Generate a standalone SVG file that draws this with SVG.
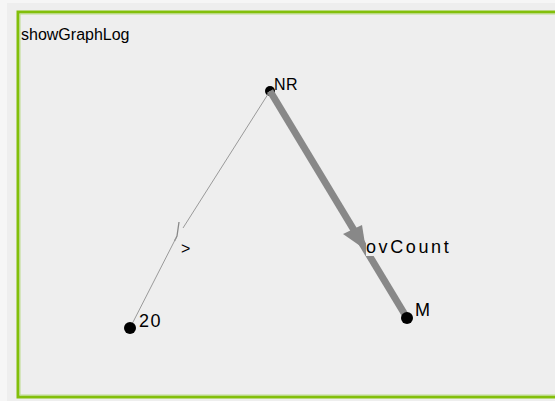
<svg xmlns="http://www.w3.org/2000/svg" width="555" height="401" viewBox="0 0 555 401">
<style>
.lbl{font-family:"Liberation Sans",Arial,sans-serif;font-size:18px;fill:#000;letter-spacing:2.6px}
.sm{font-family:"Liberation Sans",Arial,sans-serif;font-size:16px;fill:#000}
.dot{fill:#000}
</style>
<rect x="0" y="0" width="555" height="401" fill="#f6f6f6"/>
<rect x="7" y="3" width="548" height="398" fill="#eeeeee"/>
<g id="frame">
<rect x="18" y="12" width="560" height="385" fill="none" stroke="#82bf0a" stroke-width="3"/>
<rect x="20" y="14" width="560" height="381" fill="none" stroke="#bcdc8c" stroke-width="1"/>
<text class="sm" x="21" y="40">showGraphLog</text>
</g>
<g id="node-NR">
<circle class="dot" cx="270" cy="91" r="5"/>
<text class="sm" x="274" y="90" style="letter-spacing:0.5px">NR</text>
</g>
<g id="connectors">
<g id="edge-NR-20">
<line x1="270" y1="91" x2="183" y2="228" stroke="#999" stroke-width="1"/>
<path d="M179,222 L177,236 L174.5,241" fill="none" stroke="#888" stroke-width="1.3"/>
<line x1="176" y1="238" x2="130" y2="328" stroke="#999" stroke-width="1"/>
<text class="sm" x="181" y="254" style="font-size:16px">&gt;</text>
</g>
<g id="edge-NR-M">
<line x1="270" y1="91" x2="407" y2="318" stroke="#888" stroke-width="7"/>
<polygon points="366,250 343,234 362,225" fill="#888"/>
<rect x="366" y="234" width="92" height="22" fill="#eeeeee"/>
<text class="lbl" x="366" y="253">ovCount</text>
</g>
</g>
<g id="node-20">
<circle class="dot" cx="130" cy="328" r="6"/>
<text class="lbl" x="139" y="327" style="letter-spacing:1.5px">20</text>
</g>
<g id="node-M">
<circle class="dot" cx="407" cy="318" r="6"/>
<text class="lbl" x="415" y="316">M</text>
</g>
</svg>
